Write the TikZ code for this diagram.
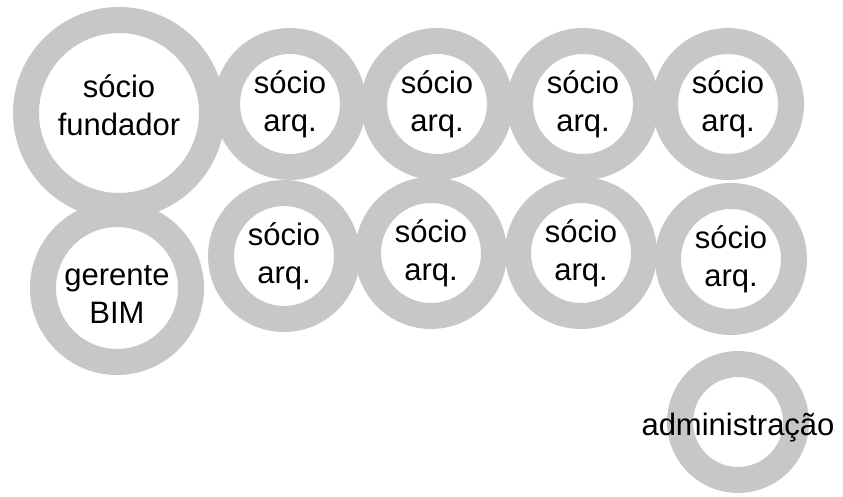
\documentclass[tikz,border=0pt]{standalone}
\usepackage{fontspec}
\setmainfont{Liberation Sans}

\definecolor{ringgray}{RGB}{199,199,199}

\tikzset{
  ring/.style={circle,draw=ringgray,line width=26pt,fill=white,inner sep=0pt},
  lbl/.style={font=\fontsize{31}{38}\selectfont,align=center,inner sep=0pt}
}

\begin{document}
\begin{tikzpicture}[x=1pt,y=-1pt]
  \useasboundingbox (0,0) rectangle (843,497);
  % circulos grandes
  \node[ring,minimum size=186] (fund) at (119,113) {};
  \node[ring,minimum size=148] (ger) at (117,288) {};
  % socios arquitetos
  \foreach \n/\x/\y in {s1/290/104,s2/437/104,s3/583/104,s4/728/104,
                        t1/284/256,t2/431/253,t3/581/253,t4/731/259} {
    \node[ring,minimum size=126] (\n) at (\x,\y) {};
    \node[lbl] (\n txt) at (\n) {sócio\\arq.};
  }
  \node[ring,minimum size=116] (adm) at (738,422) {};
  % textos
  \node[lbl] (fundtxt) at ([yshift=8pt]fund) {sócio\\fundador};
  \node[lbl] (gertxt) at ([yshift=-6pt]ger) {gerente\\BIM};
  \node[lbl] (admtxt) at ([yshift=-6pt]adm) {administração};
\end{tikzpicture}
\end{document}
